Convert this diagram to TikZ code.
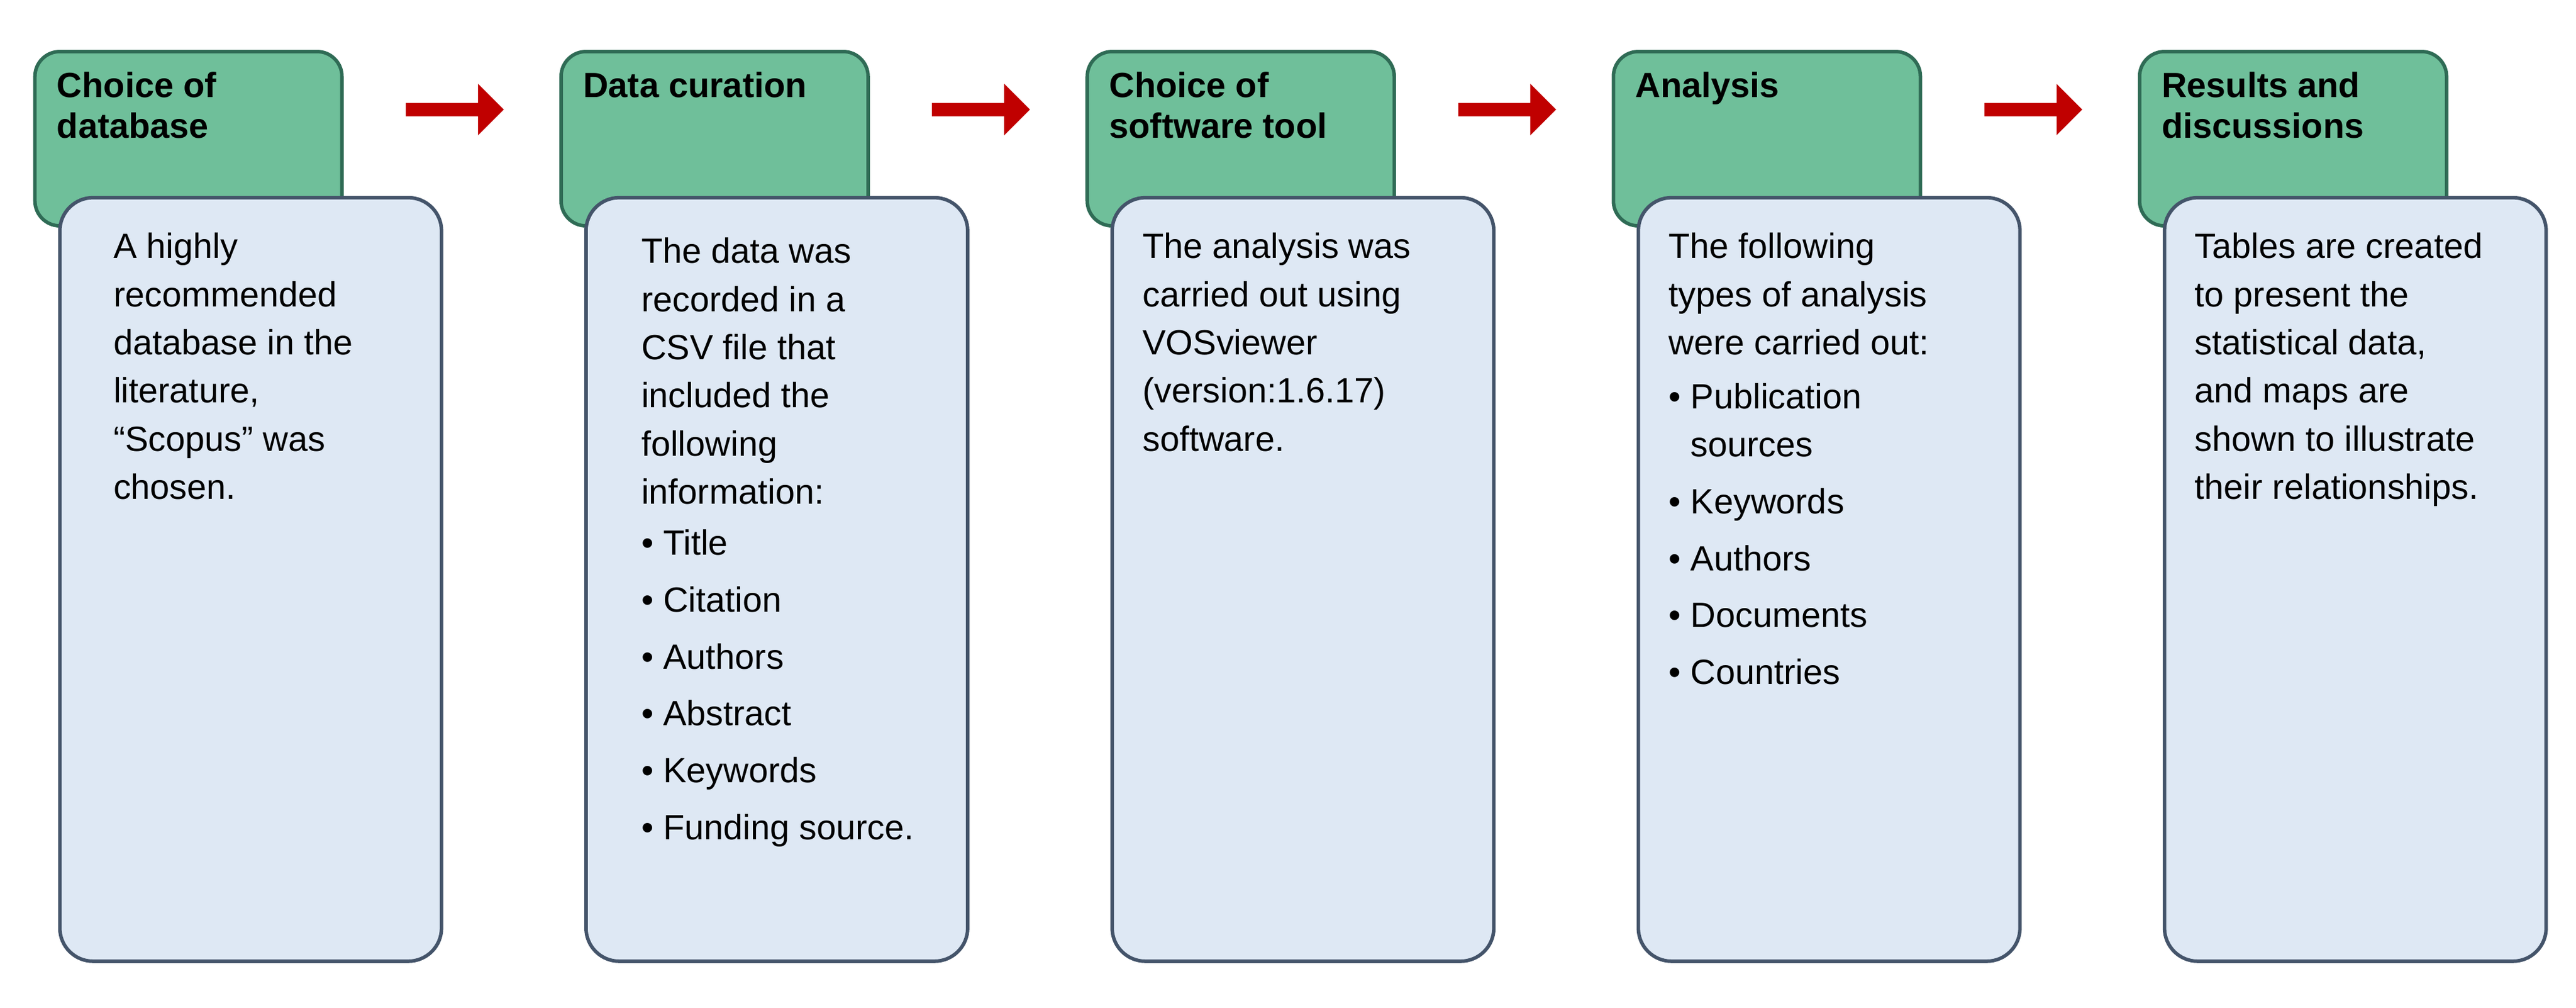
\documentclass[tikz,border=0pt]{standalone}
\usepackage{fontspec}
\setmainfont{Liberation Sans}
\usetikzlibrary{shapes.arrows}
\definecolor{headgreen}{HTML}{6FBF9A}
\definecolor{headline}{HTML}{2F6B55}
\definecolor{bodyblue}{HTML}{DEE8F4}
\definecolor{bodyline}{HTML}{44546A}
\definecolor{arrowred}{HTML}{C00000}
\begin{document}
\begin{tikzpicture}[x=0.02cm,y=-0.02cm,
	head/.style={draw=headline, fill=headgreen, line width=1.2pt, rounded corners=0.3cm, anchor=north west, minimum width=3.7cm, minimum height=2.1cm, inner sep=0pt},
	headtext/.style={anchor=north west, align=left, font=\bfseries\fontsize{12}{14}\selectfont, inner sep=0pt},
	body/.style={draw=bodyline, fill=bodyblue, line width=1.2pt, rounded corners=0.4cm, anchor=north west, minimum width=4.6cm, minimum height=9.2cm, inner sep=0pt},
	bodytext/.style={anchor=north west, align=left, font=\fontsize{12}{16.5}\selectfont, inner sep=0pt},
	redarrow/.style={single arrow, fill=arrowred, draw=none, minimum height=1.18cm, minimum width=0.62cm, single arrow head extend=0.02cm, inner sep=0pt, shape border rotate=0}]
\useasboundingbox (0,0) rectangle (1552,607);

\node (head1) [head] at (20,30) {};
\node (head2) [head] at (337,30) {};
\node (head3) [head] at (654,30) {};
\node (head4) [head] at (971,30) {};
\node (head5) [head] at (1288,30) {};

\node (title1) [headtext] at (34,43) {Choice of\\database};
\node (title2) [headtext] at (351,43) {Data curation};
\node (title3) [headtext] at (668,43) {Choice of\\software tool};
\node (title4) [headtext] at (985,43) {Analysis};
\node (title5) [headtext] at (1302,43) {Results and\\discussions};

\node (body1) [body] at (35,118) {};
\node (body2) [body] at (352,118) {};
\node (body3) [body] at (669,118) {};
\node (body4) [body] at (986,118) {};
\node (body5) [body] at (1303,118) {};

\node (text1) [bodytext] at (68,140) {A highly\\recommended\\database in the\\literature,\\“Scopus” was\\chosen.};
\node (text2) [bodytext] at (386,143) {The data was\\recorded in a\\CSV file that\\included the\\following\\information:\\[1pt]
• Title\\[3pt] • Citation\\[3pt] • Authors\\[3pt] • Abstract\\[3pt] • Keywords\\[3pt] • Funding source.};
\node (text3) [bodytext] at (688,140) {The analysis was\\carried out using\\VOSviewer\\(version:1.6.17)\\software.};
\node (text4) [bodytext] at (1005,140) {The following\\types of analysis\\were carried out:\\[2pt]
• Publication\\\phantom{• }sources\\[3pt] • Keywords\\[3pt] • Authors\\[3pt] • Documents\\[3pt] • Countries};
\node (text5) [bodytext] at (1322,140) {Tables are created\\to present the\\statistical data,\\and maps are\\shown to illustrate\\their relationships.};

% Arrows
\node (arrow1) [redarrow] at (272,66) {};
\node (arrow2) [redarrow] at (589,66) {};
\node (arrow3) [redarrow] at (906,66) {};
\node (arrow4) [redarrow] at (1223,66) {};
\end{tikzpicture}
\end{document}
